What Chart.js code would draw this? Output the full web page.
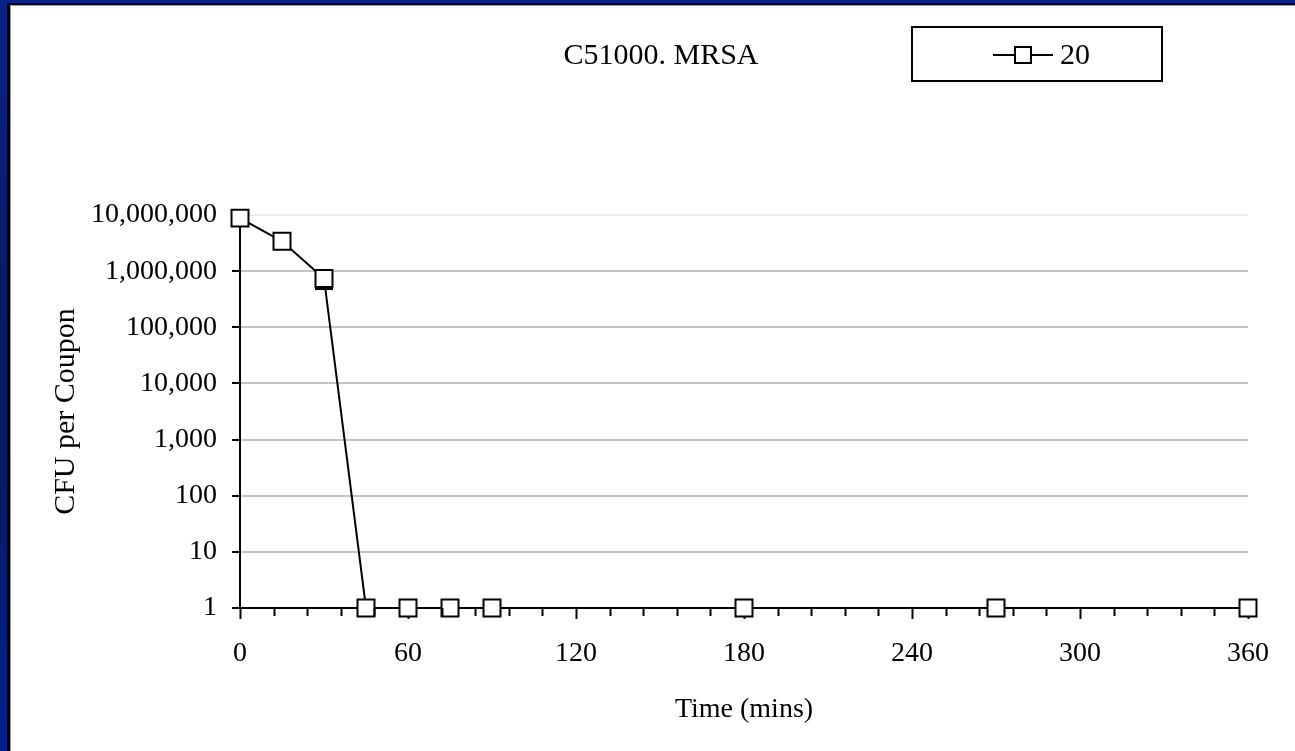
<!DOCTYPE html>
<html>
<head>
<meta charset="utf-8">
<script src="https://cdn.jsdelivr.net/npm/chart.js@4.4.1/dist/chart.umd.min.js"></script>
<style>
  html, body {
    margin: 0;
    padding: 0;
    width: 1295px;
    height: 751px;
    overflow: hidden;
    background: linear-gradient(180deg, #0a2286 0%, #061a62 45%, #061a62 60%, #02208c 100%);
  }
  #panel {
    position: absolute;
    left: 7px;
    top: 3px;
    width: 1288px;
    height: 748px;
    box-sizing: border-box;
    background: #fff;
    border-left: 3px solid #000;
    border-top: 2px solid #000;
    box-shadow: inset 1px 1px 0 #9a9a9a;
  }
  #chart { position: absolute; left: 1px; top: 1px; }
</style>
</head>
<body>
<div id="panel">
  <canvas id="chart" width="1284" height="745"></canvas>
</div>
<script>
// ---------------------------------------------------
// Chart data
// ---------------------------------------------------
var chartTitle = 'C51000. MRSA';
var seriesLabel = '20';
var xAxisTitle = 'Time (mins)';
var yAxisTitle = 'CFU per Coupon';

var timeMins  = [0, 15, 30, 45, 60, 75, 90, 180, 270, 360];
var cfuValues = [8800000, 3400000, 740000, 1, 1, 1, 1, 1, 1, 1];
// lower end of the error bar (only visible one at 30 mins)
var cfuLowerErr = [null, null, 480000, null, null, null, null, null, null, null];

var xTickValues = [0, 60, 120, 180, 240, 300, 360];
var xMinorTickValues = [12, 24, 36, 48, 72, 84, 96, 108, 132, 144, 156, 168,
  192, 204, 216, 228, 252, 264, 276, 288, 312, 324, 336, 348];
var yTickValues = [1, 10, 100, 1000, 10000, 100000, 1000000, 10000000];

var FONT = '"Liberation Serif", "Times New Roman", serif';

/**
 * Title, boxed legend, minor ticks and error bars
 */
var decorPlugin = {
  id: 'decor',
  beforeDatasetsDraw: function(chart) {
    var ctx = chart.ctx;
    var xs = chart.scales.x, ys = chart.scales.y;
    ctx.save();
    ctx.strokeStyle = '#000';
    ctx.lineWidth = 2;
    for (var i = 0; i < timeMins.length; i++) {
      if (cfuLowerErr[i] == null) continue;
      var px = xs.getPixelForValue(timeMins[i]);
      var py = ys.getPixelForValue(cfuValues[i]);
      var pl = ys.getPixelForValue(cfuLowerErr[i]);
      ctx.beginPath();
      ctx.moveTo(px, py);
      ctx.lineTo(px, pl);
      ctx.moveTo(px - 9, pl);
      ctx.lineTo(px + 9, pl);
      ctx.stroke();
    }
    ctx.restore();
  },
  afterDraw: function(chart) {
    var ctx = chart.ctx;
    var xs = chart.scales.x;
    var area = chart.chartArea;
    ctx.save();

    // minor ticks on the x axis
    ctx.strokeStyle = '#000';
    ctx.lineWidth = 2;
    xMinorTickValues.forEach(function(v) {
      var px = Math.round(xs.getPixelForValue(v)) + 0.5;
      ctx.beginPath();
      ctx.moveTo(px, area.bottom);
      ctx.lineTo(px, area.bottom + 8);
      ctx.stroke();
    });

    // title
    ctx.fillStyle = '#000';
    ctx.font = '30px ' + FONT;
    ctx.textAlign = 'center';
    ctx.textBaseline = 'middle';
    ctx.fillText(chartTitle, 650, 50);

    // legend box
    ctx.lineWidth = 2;
    ctx.strokeRect(901, 21, 250, 54);
    var ly = 49;
    ctx.beginPath();
    ctx.moveTo(982, ly);
    ctx.lineTo(1042, ly);
    ctx.stroke();
    ctx.fillStyle = '#fff';
    ctx.fillRect(1004, ly - 8, 16, 16);
    ctx.strokeRect(1004, ly - 8, 16, 16);
    ctx.fillStyle = '#000';
    ctx.textAlign = 'left';
    ctx.fillText(chart.data.datasets[0].label, 1049, ly + 1);

    ctx.restore();
  }
};

var points = timeMins.map(function(t, i) {
  return { x: t, y: cfuValues[i] };
});

var ctx = document.getElementById('chart').getContext('2d');
var chart = new Chart(ctx, {
  type: 'line',
  data: {
    datasets: [{
      label: seriesLabel,
      data: points,
      borderColor: '#000',
      borderWidth: 2,
      pointStyle: 'rect',
      pointRadius: 12,
      pointBorderWidth: 2,
      pointBackgroundColor: '#fff',
      pointBorderColor: '#000',
      tension: 0,
      clip: false
    }]
  },
  options: {
    responsive: false,
    animation: false,
    events: [],
    layout: {
      padding: { left: 0, right: 47, top: 209, bottom: 0 }
    },
    plugins: {
      legend: { display: false },
      title: { display: false },
      tooltip: { enabled: false }
    },
    scales: {
      x: {
        type: 'linear',
        min: 0,
        max: 360,
        afterBuildTicks: function(scale) {
          scale.ticks = xTickValues.map(function(v) { return { value: v }; });
        },
        afterFit: function(scale) { scale.height = 143; },
        grid: {
          drawOnChartArea: false,
          tickLength: 11,
          tickColor: '#000',
          tickWidth: 2
        },
        border: { display: true, color: '#000', width: 2 },
        ticks: {
          color: '#000',
          padding: 18,
          maxRotation: 0,
          font: { family: FONT, size: 28 }
        },
        title: {
          display: true,
          text: xAxisTitle,
          color: '#000',
          padding: { top: 0, bottom: 25 },
          font: { family: FONT, size: 28 }
        }
      },
      y: {
        type: 'logarithmic',
        min: 1,
        max: 10000000,
        afterBuildTicks: function(scale) {
          scale.ticks = yTickValues.map(function(v) { return { value: v }; });
        },
        afterFit: function(scale) { scale.width = 229; },
        grid: {
          color: function(c) {
            return (c.tick && c.tick.value === 10000000) ? '#ececec' : '#c4c4c4';
          },
          lineWidth: 2,
          tickLength: 8,
          tickColor: '#000',
          tickWidth: 2
        },
        border: { display: true, color: '#000', width: 2 },
        ticks: {
          color: '#000',
          padding: 15,
          font: { family: FONT, size: 28 },
          callback: function(value) {
            return Number(value).toLocaleString('en-US');
          }
        },
        title: {
          display: true,
          text: yAxisTitle,
          color: '#000',
          padding: { top: 37, bottom: 0 },
          font: { family: FONT, size: 30 }
        }
      }
    }
  },
  plugins: [decorPlugin]
});
</script>
</body>
</html>
